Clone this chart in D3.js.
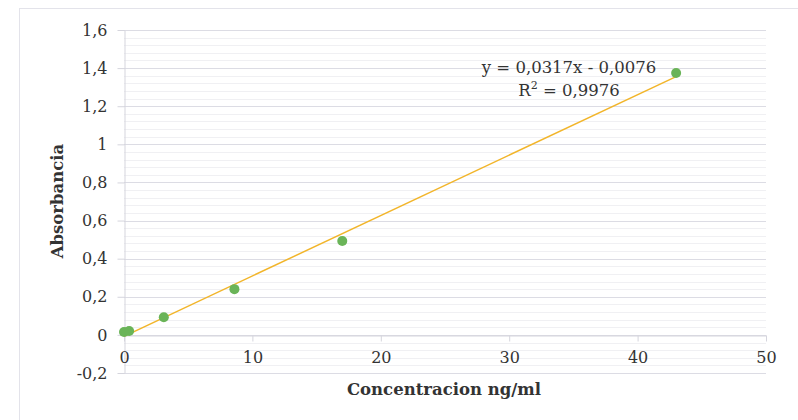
<!DOCTYPE html>
<html>
<head>
<meta charset="utf-8">
<script src="https://cdn.jsdelivr.net/npm/d3@7"></script>
<style>
  body { margin: 0; background: #fff; }
  text { font-family: "DejaVu Serif", "Liberation Serif", serif; fill: #333; }
</style>
</head>
<body>
<div id="chart"></div>
<script>
const svgWidth = 798;
const svgHeight = 420;

// measured points
const concentration = [0, 0.4, 3.1, 8.6, 17, 43];
const absorbance = [0.015, 0.02, 0.093, 0.24, 0.493, 1.374];

// trend line from the chart label
const slope = 0.0317;
const intercept = -0.0076;

const yTicks = [-0.2, 0, 0.2, 0.4, 0.6, 0.8, 1, 1.2, 1.4, 1.6];
const xTicks = [0, 10, 20, 30, 40, 50];

const margin = { top: 30, right: 32, bottom: 47, left: 124 };
const width = svgWidth - margin.left - margin.right;
const height = svgHeight - margin.top - margin.bottom;

const svg = d3.select("#chart")
    .append("svg")
    .attr("width", svgWidth)
    .attr("height", svgHeight);

// outer chart frame
svg.append("rect")
    .attr("x", 19.5)
    .attr("y", 8.5)
    .attr("width", 800)
    .attr("height", 430)
    .attr("fill", "#fff")
    .attr("stroke", "#e3e3ea");

const g = svg.append("g")
    .attr("transform", `translate(${margin.left}, ${margin.top})`);

const x = d3.scaleLinear().domain([0, 50]).range([0, width]);
const y = d3.scaleLinear().domain([-0.2, 1.6]).range([height, 0]);

const fmt = d => d3.format("~g")(d).replace(".", ",").replace("−", "-");

// minor gridlines
const minor = d3.range(-0.2, 1.6001, 0.04).map(v => +v.toFixed(2));
g.append("g").selectAll("line")
    .data(minor)
    .enter().append("line")
    .attr("x1", 0).attr("x2", width)
    .attr("y1", d => Math.round(y(d)) + 0.5)
    .attr("y2", d => Math.round(y(d)) + 0.5)
    .attr("stroke", "#f0f0f3");

// major gridlines
g.append("g").selectAll("line")
    .data(yTicks)
    .enter().append("line")
    .attr("x1", 0).attr("x2", width)
    .attr("y1", d => Math.round(y(d)) + 0.5)
    .attr("y2", d => Math.round(y(d)) + 0.5)
    .attr("stroke", "#dcdce4");

// y axis
const yAxis = g.append("g")
    .attr("transform", "translate(0.5,0)")
    .call(d3.axisLeft(y).tickValues(yTicks).tickFormat(fmt).tickSize(7).tickSizeOuter(0));
yAxis.select(".domain").attr("stroke", "#d5d5dd");
yAxis.selectAll(".tick line").attr("stroke", "#d5d5dd");
yAxis.selectAll(".tick text")
    .attr("x", -17)
    .attr("font-size", 16)
    .attr("fill", "#333");

// x axis at y = 0
const xAxis = g.append("g")
    .attr("transform", `translate(0, ${Math.round(y(0)) + 0.5})`)
    .call(d3.axisBottom(x).tickValues(xTicks).tickSize(6).tickSizeOuter(0));
xAxis.select(".domain").attr("stroke", "#d5d5dd");
xAxis.selectAll(".tick line").attr("stroke", "#d5d5dd");
xAxis.selectAll(".tick text")
    .attr("y", 16)
    .attr("font-size", 16)
    .attr("fill", "#333");

// trend line
const x0 = d3.min(concentration);
const x1 = d3.max(concentration);
g.append("line")
    .attr("x1", x(x0)).attr("y1", y(slope * x0 + intercept))
    .attr("x2", x(x1)).attr("y2", y(slope * x1 + intercept))
    .attr("stroke", "#f2b52a")
    .attr("stroke-width", 1.5);

// points
g.selectAll("circle.pt")
    .data(concentration.map((c, i) => ({ c, a: absorbance[i] })))
    .enter().append("circle")
    .attr("class", "pt")
    .attr("cx", d => x(d.c))
    .attr("cy", d => y(d.a))
    .attr("r", 5)
    .attr("fill", "#6ab458");

// equation labels
g.append("text")
    .attr("x", 445)
    .attr("y", 43)
    .attr("text-anchor", "middle")
    .attr("font-size", 16.5)
    .attr("fill", "#1f1f1f")
    .text("y = 0,0317x - 0,0076");

const r2 = g.append("text")
    .attr("x", 445)
    .attr("y", 66)
    .attr("text-anchor", "middle")
    .attr("font-size", 16.5)
    .attr("fill", "#1f1f1f");
r2.append("tspan").text("R");
r2.append("tspan").attr("font-size", 11).attr("dy", -7).text("2");
r2.append("tspan").attr("dy", 7).text(" = 0,9976");

// axis titles
svg.append("text")
    .attr("x", 444)
    .attr("y", 395)
    .attr("text-anchor", "middle")
    .attr("font-size", 16.5)
    .attr("font-weight", "bold")
    .attr("fill", "#111")
    .text("Concentracion ng/ml");

svg.append("text")
    .attr("transform", "translate(63, 201) rotate(-90)")
    .attr("text-anchor", "middle")
    .attr("font-size", 16.5)
    .attr("font-weight", "bold")
    .attr("fill", "#111")
    .text("Absorbancia");
</script>
</body>
</html>
